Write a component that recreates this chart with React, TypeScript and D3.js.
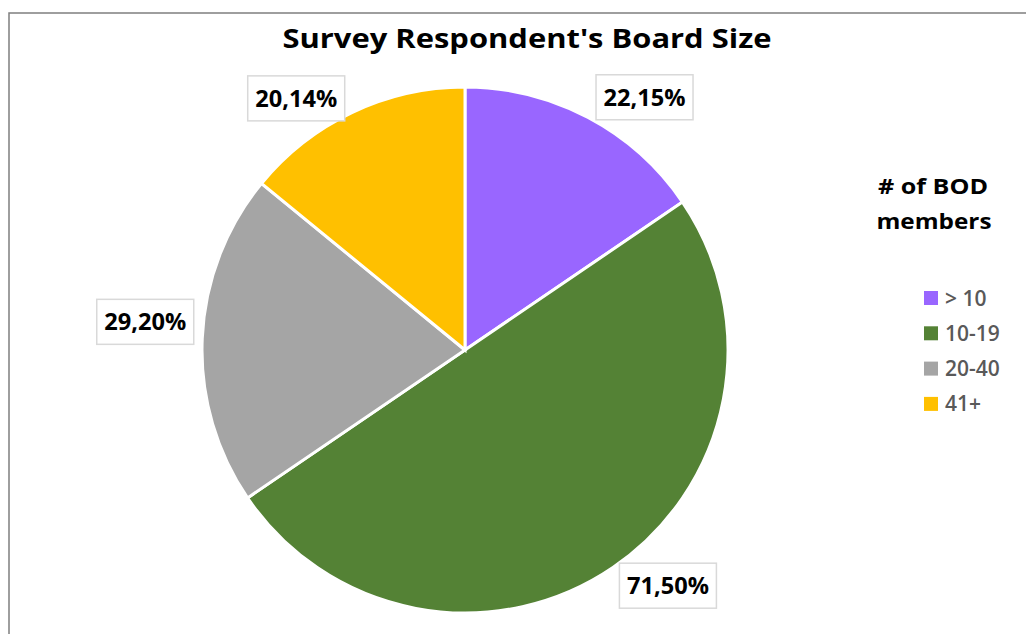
import React from "react";
import * as d3 from "d3";

const categories = ["> 10", "10-19", "20-40", "41+"];
const counts = [22, 71, 29, 20];
const percents = [15, 50, 20, 14];
const colors = ["#9966FF", "#548235", "#A5A5A5", "#FFC000"];
// label placement nudges (degrees, radius) relative to slice mid-angle
const labelAngleNudge = [7.5, -6.5, 2.5, -8.5];
const labelRadius = [310, 311, 321, 303];

const W = 1026;
const H = 634;
const cx = 465;
const cy = 350;
const R = 263;

export default function App() {
  const pie = d3.pie<number>().value((d) => d).sort(null);
  const arcs = pie(counts);
  const arcGen = d3.arc<d3.PieArcDatum<number>>().innerRadius(0).outerRadius(R);
  const boxW = 97;
  const boxH = 45;
  return (
    <svg
      width={W}
      height={H}
      style={{ position: "absolute", left: 0, top: 0, background: "#fff" }}
    >
      <rect x={9} y={13} width={W + 20} height={H + 20} fill="#fff" stroke="#7f7f7f" strokeWidth={1.5} />
      <text
        x={527}
        y={48}
        textAnchor="middle"
        fontFamily="'Open Sans', sans-serif"
        fontWeight={700}
        fontSize={27}
        textLength={489}
        lengthAdjust="spacingAndGlyphs"
        fill="#000"
      >
        Survey Respondent's Board Size
      </text>
      <g transform={`translate(${cx},${cy})`}>
        {arcs.map((a, i) => (
          <path key={i} d={arcGen(a) || ""} fill={colors[i]} stroke="#fff" strokeWidth={3} />
        ))}
        {arcs.map((a, i) => {
          const mid = (a.startAngle + a.endAngle) / 2 + (labelAngleNudge[i] * Math.PI) / 180;
          const lx = Math.sin(mid) * labelRadius[i];
          const ly = -Math.cos(mid) * labelRadius[i];
          return (
            <g key={"l" + i} transform={`translate(${lx},${ly})`}>
              <rect x={-boxW / 2} y={-boxH / 2} width={boxW} height={boxH} fill="#fff" stroke="#d9d9d9" strokeWidth={1.5} />
              <text
                x={0}
                y={8.5}
                textAnchor="middle"
                fontFamily="'Open Sans', sans-serif"
                fontWeight={700}
                fontSize={23}
                textLength={82}
                lengthAdjust="spacingAndGlyphs"
                fill="#000"
              >
                {`${counts[i]},${percents[i]}%`}
              </text>
            </g>
          );
        })}
      </g>
      <g fontFamily="'Open Sans', sans-serif" fontWeight={700}>
        <text x={933} y={194} textAnchor="middle" fontSize={22} fill="#000" textLength={110} lengthAdjust="spacingAndGlyphs">
          # of BOD
        </text>
        <text x={934} y={229} textAnchor="middle" fontSize={22} fill="#000" textLength={115} lengthAdjust="spacingAndGlyphs">
          members
        </text>
        {categories.map((c, i) => {
          const yc = 298 + i * 35.3;
          return (
            <g key={c}>
              <rect x={924} y={yc - 7} width={14} height={14} fill={colors[i]} />
              <text x={945} y={yc + 7.5} fontSize={21} fontWeight={600} fill="#595959">
                {c}
              </text>
            </g>
          );
        })}
      </g>
    </svg>
  );
}
